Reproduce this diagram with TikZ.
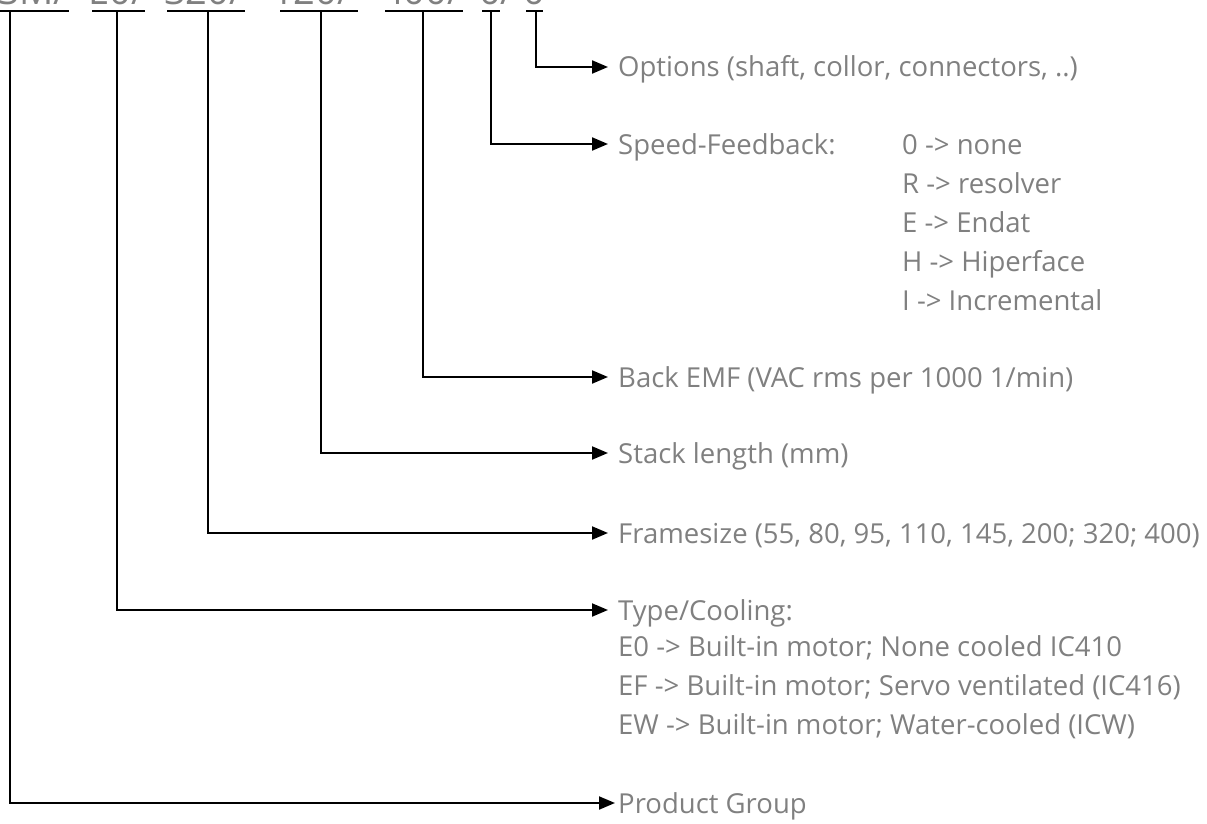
\documentclass[tikz,border=0pt]{standalone}
\usepackage{fontspec}
\setmainfont{Open Sans}
\usetikzlibrary{arrows.meta,positioning}
\definecolor{cLabel}{RGB}{128,128,128}
\tikzset{
  >={Triangle[length=16pt,width=13pt]},
  conn/.style={->,line width=2pt,black},
  bar/.style={line width=2pt,black},
  code/.style={anchor=base west,inner sep=0pt,text=cLabel,
               font=\fontsize{38}{44}\selectfont},
  lbl/.style={anchor=west,inner xsep=10pt,inner ysep=0pt,text height=20pt,
              text depth=0pt,text=cLabel,font=\fontsize{27.5}{39}\selectfont},
  lst/.style={anchor=base west,inner sep=0pt,text=cLabel,
              font=\fontsize{27.5}{39}\selectfont},
}

\begin{document}
\begin{tikzpicture}[x=1pt,y=-1pt]
  \useasboundingbox (0,0) rectangle (1207,824);

  % type code, mostly cut off at the top edge
  \node[code] (c1) at (-2,5)  {SM/};
  \node[code] (c2) at (88,5)  {E0/};
  \node[code] (c3) at (164,5) {320/};
  \node[code] (c4) at (272,5) {120/};
  \node[code] (c5) at (382,5) {400/};
  \node[code] (c6) at (479,5) {0/};
  \node[code] (c7) at (523,5) {0};

  \foreach \l/\r/\m [count=\i] in {-49/69/10,92/145/117,167/245/208,
      280/358/321,385/463/423,482/500/491,526/543/536}{
    \draw[bar] (\l,11) -- (\r,11);
    \coordinate (b\i) at (\m,11);
  }

  \node[lbl] (opt) at (608,67)  {Options (shaft, collor, connectors, ..)};
  \node[lbl] (sfb) at (608,144) {Speed-Feedback:};
  \coordinate (sfcol) at (902,0);
  \node[lst] (sfl) at (sfb.base -| sfcol) {\begin{tabular}[t]{@{}l@{}}
      0 -> none\\ R -> resolver\\ E -> Endat\\ H -> Hiperface\\
      I -> Incremental\end{tabular}};
  \node[lbl] (emf) at (608,377) {Back EMF (VAC rms per 1000 1/min)};
  \node[lbl] (stk) at (608,453) {Stack length (mm)};
  \node[lbl] (frm) at (608,533) {Framesize (55, 80, 95, 110, 145, 200; 320; 400)};
  \node[lbl] (typ) at (608,610) {Type/Cooling:};
  \node[lst] (typl) at ([xshift=10pt,yshift=-36pt]typ.base west) {\begin{tabular}[t]{@{}l@{}}
      E0 -> Built-in motor; None cooled IC410\\
      EF -> Built-in motor; Servo ventilated (IC416)\\
      EW -> Built-in motor; Water-cooled (ICW)\end{tabular}};
  \node[lbl,inner xsep=3pt] (grp) at (615,803) {Product Group};

  \draw[conn] (b7) |- (opt);
  \draw[conn] (b6) |- (sfb);
  \draw[conn] (b5) |- (emf);
  \draw[conn] (b4) |- (stk);
  \draw[conn] (b3) |- (frm);
  \draw[conn] (b2) |- (typ);
  \draw[conn] (b1) |- (grp);
\end{tikzpicture}
\end{document}
